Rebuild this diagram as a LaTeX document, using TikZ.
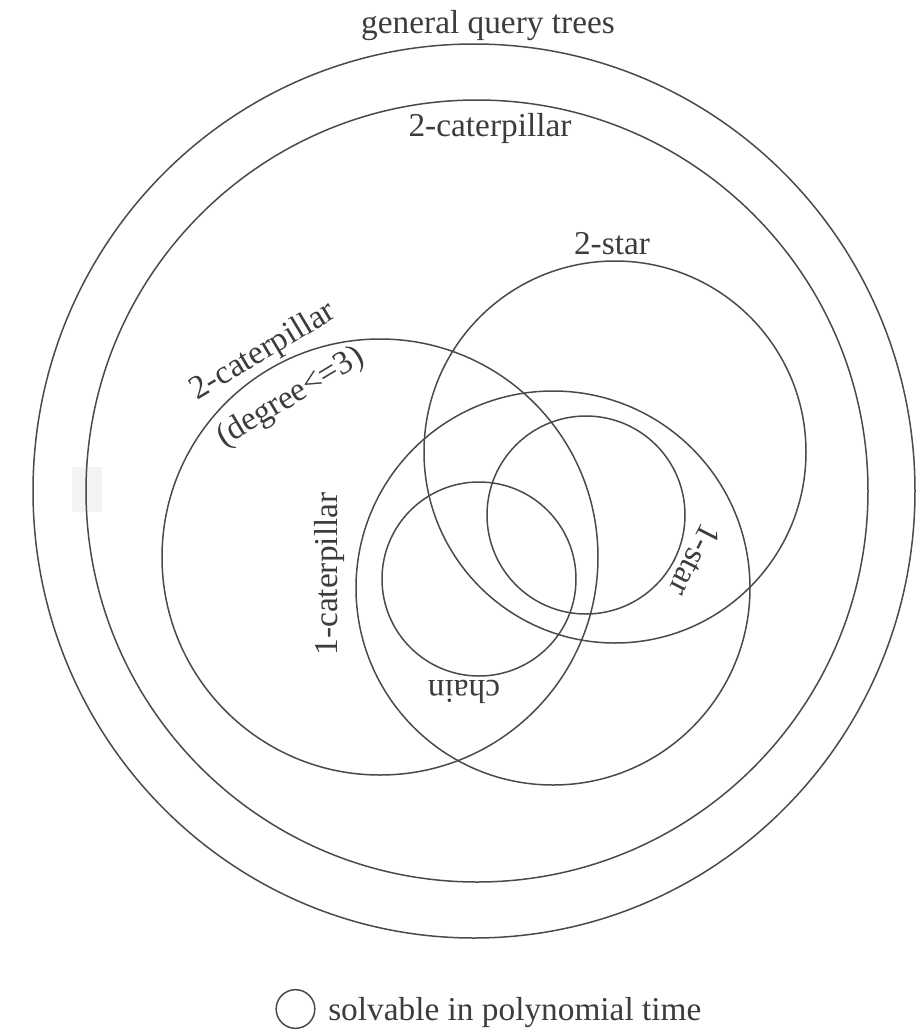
\documentclass[tikz,border=0pt]{standalone}
\usepackage{fontspec}
\setmainfont{Liberation Serif}
\usepackage{xcolor}
\usetikzlibrary{positioning}
\definecolor{VennInk}{HTML}{4A4A4A}
\definecolor{VennText}{HTML}{3C3C3C}
\definecolor{VennSmudge}{HTML}{F3F3F3}
\tikzset{
  setline/.style={draw=VennInk, line width=0.45pt},
  setlabel/.style={font=\fontsize{10}{12}\selectfont, text=VennText, inner sep=0pt, align=center},
  legendring/.style={circle, draw=VennInk, line width=0.45pt, minimum size=11.6pt, inner sep=0pt}
}

\begin{document}
\begin{tikzpicture}[x=0.3pt, y=-0.3pt, node distance=3.6pt]
\useasboundingbox (0,0) rectangle (916,1030);
\fill[VennSmudge] (72,467) rectangle (102,512);
% nested classes of query trees
\draw[setline] (474,491) ellipse [x radius=441, y radius=447];
\draw[setline] (477,491) circle [radius=391];
\draw[setline] (380,557) circle [radius=218];
\draw[setline] (615,452) circle [radius=191];
\draw[setline] (553,588) circle [radius=197];
\draw[setline] (586,515) circle [radius=99];
\draw[setline] (479,579) circle [radius=97];
% class names
\node[setlabel, anchor=base] (gqt) at (488,33) {general query trees};
\node[setlabel, anchor=base] (twocat) at (490,136) {2-caterpillar};
\node[setlabel, anchor=base] (twostar) at (612,254) {2-star};
\node[setlabel, rotate=31] (twocatdeg) at (277,375) {2-caterpillar\\[4pt](degree<=3)};
\node[setlabel, rotate=90] (onecat) at (329,574) {1-caterpillar};
\node[setlabel, rotate=-117] (onestar) at (695,560) {1-star};
\node[setlabel, rotate=180] (chain) at (464,692) {chain};
% legend
\node[legendring] (legring) at (295.5,1009) {};
\node[setlabel, right=of legring, yshift=-1pt] (legtext) {solvable in polynomial time};
\end{tikzpicture}
\end{document}
